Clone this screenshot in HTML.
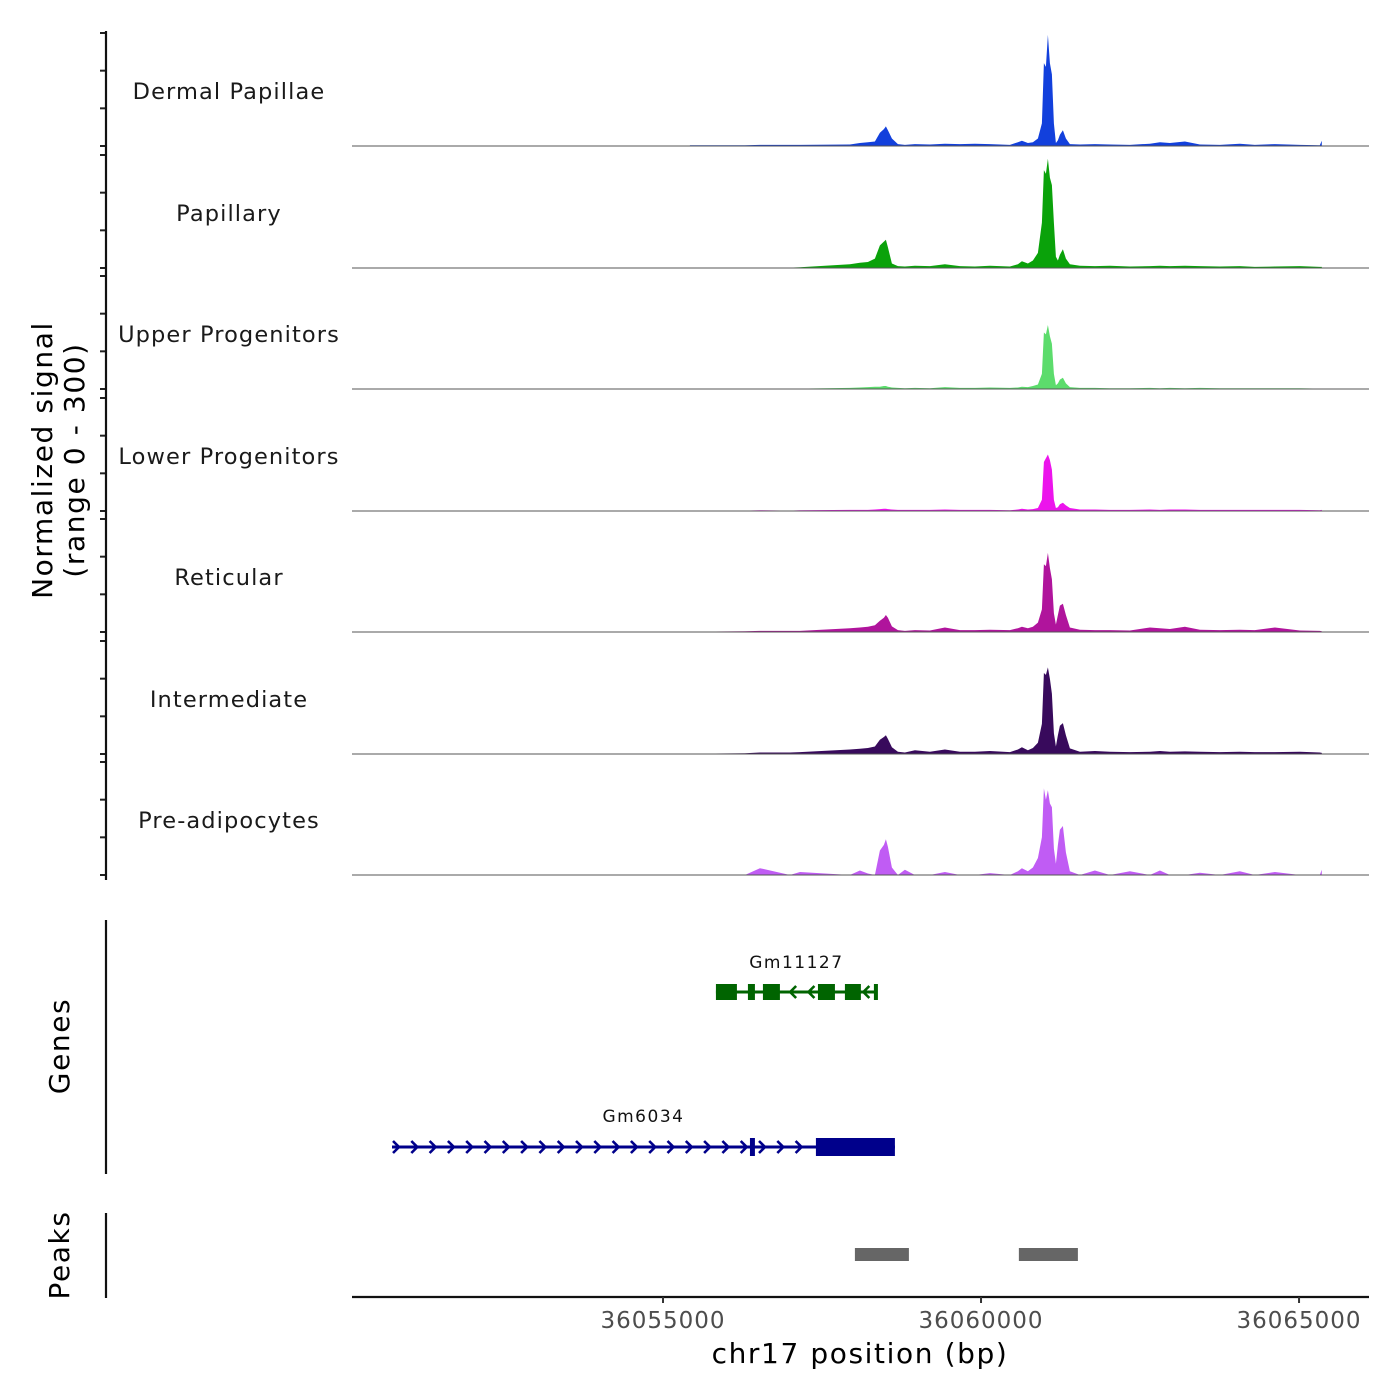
<!DOCTYPE html>
<html><head><meta charset="utf-8"><style>
html,body{margin:0;padding:0;background:#fff;}
svg{display:block;font-family:"DejaVu Sans","Liberation Sans",sans-serif;}
</style></head><body>
<svg id="chart" width="1400" height="1400" viewBox="0 0 1400 1400" xmlns="http://www.w3.org/2000/svg">
<g id="tracks"></g>
<g id="genes"></g>
<g id="peaks"></g>
<g id="axes"></g>
</svg>
<script>
const positions=[36055423,36055581,36056288,36056524,36056995,36057153,36057939,36058096,36058222,36058332,36058410,36058473,36058504,36058536,36058599,36058693,36058803,36058960,36059196,36059432,36059668,36059904,36060139,36060454,36060580,36060642,36060737,36060815,36060894,36060957,36060988,36061020,36061051,36061083,36061114,36061145,36061177,36061208,36061240,36061287,36061334,36061397,36061554,36061790,36062026,36062340,36062655,36062812,36062969,36063205,36063441,36063755,36064069,36064305,36064620,36065013,36065327,36065358];
const trackNames=["Dermal Papillae","Papillary","Upper Progenitors","Lower Progenitors","Reticular","Intermediate","Pre-adipocytes"];
const trackColors=["#1240dc","#0aa20a","#5cdc6c","#ec14ec","#b0149c","#380a5c","#c05cf4"];
const sigDermal=[2,2,2,3,3,3,4,8,10,12,35,45,52,42,20,5,3,5,4,6,5,6,5,3,10,14,8,10,20,60,220,210,295,220,190,60,8,15,30,42,20,5,4,5,4,3,6,10,8,12,4,3,6,3,5,3,2,14];
const sigPapillary=[0,0,1,1,1,2,10,14,16,25,60,70,75,55,12,5,4,6,5,10,5,4,6,4,10,18,12,20,40,120,260,250,290,240,220,120,30,20,35,50,25,10,6,5,6,4,5,6,5,6,5,4,5,3,4,5,3,3];
const sigUpper=[0,0,0,1,1,1,3,4,5,6,6,8,8,6,4,3,2,3,2,5,3,3,4,3,4,6,5,8,12,40,150,145,170,140,120,40,10,15,25,30,15,5,3,3,2,2,3,2,3,2,3,2,2,2,2,2,1,1];
const sigLower=[1,1,1,2,1,2,3,3,3,4,5,6,6,5,4,3,3,3,3,4,3,3,3,2,4,6,4,5,8,30,130,140,150,135,110,30,8,10,18,22,15,8,4,4,3,3,4,3,4,4,3,3,3,3,3,3,2,3];
const sigReticular=[1,1,2,3,3,3,10,12,14,18,30,38,45,38,15,5,3,5,4,12,5,5,6,5,10,14,10,14,25,60,180,175,210,170,140,50,20,45,70,75,45,12,6,5,5,4,12,10,8,14,6,5,6,5,12,4,3,2];
const sigIntermediate=[1,1,2,4,4,5,12,14,16,20,38,45,50,40,18,6,4,10,6,12,6,6,8,5,12,18,10,16,30,80,215,210,230,200,160,55,20,50,75,82,50,15,6,8,6,5,6,8,6,7,6,5,6,5,5,6,4,3];
const sigPreadipocytes=[0,0,0,18,0,8,0,12,4,0,65,80,95,75,20,0,14,0,0,8,0,0,5,0,10,18,10,20,45,100,230,200,225,190,180,70,30,80,120,130,60,10,0,12,0,10,0,12,0,0,6,0,10,0,8,0,0,14];
const signals=[sigDermal,sigPapillary,sigUpper,sigLower,sigReticular,sigIntermediate,sigPreadipocytes];
const yTicks=[0,100,200,300];
const xTicks=[36055000,36060000,36065000];
const xTickLabels=["36055000","36060000","36065000"];
const genesNames=["Gm11127","Gm6034"];
const gm11127Range=[36055832,36058363];
const gm11127Exons=[[36055832,36056162],[36056335,36056445],[36056571,36056838],[36057436,36057703],[36057860,36058111],[36058316,36058363]];
const gm6034Range=[36050739,36058646];
const gm6034Exons=[[36056367,36056445],[36057404,36058646]];
const peakRegions=[[36058017,36058866],[36060595,36061523]];

const NS="http://www.w3.org/2000/svg";
function el(tag,attrs,parent,text){const e=document.createElementNS(NS,tag);for(const k in attrs)e.setAttribute(k,attrs[k]);if(text!==undefined)e.textContent=text;parent.appendChild(e);return e;}
const X0=352,X1=1369,BP0=36050110,BP1=36066100;
function xs(bp){return X0+(bp-BP0)/(BP1-BP0)*(X1-X0);}
const baselines=[146,268,389,511,632,754,875];
const TH=113;
function ys(v,b){return b-v/300*TH;}

const tracks=document.getElementById('tracks');
signals.forEach((sig,t)=>{
  const b=baselines[t];
  let d="M"+xs(positions[0]).toFixed(1)+","+b;
  for(let i=0;i<positions.length;i++)d+=" L"+xs(positions[i]).toFixed(1)+","+ys(sig[i],b).toFixed(1);
  d+=" L"+xs(positions[positions.length-1]).toFixed(1)+","+b+" Z";
  const p=el('path',{d:d,fill:trackColors[t]},tracks);
  
  
  const ln=el('line',{x1:X0,x2:X1,y1:b,y2:b,stroke:'#555','stroke-width':1},tracks);
  
  
  const lb=el('text',{x:229,y:b-47,'text-anchor':'middle','font-size':22.5,fill:'#1a1a1a','letter-spacing':'1.1'},tracks,trackNames[t]);
  
  
  yTicks.forEach(v=>{
    const ty=ys(v,b);
    const tk=el('line',{x1:100,x2:106,y1:ty,y2:ty,stroke:'#222','stroke-width':2},tracks);
    
    
  });
});

const axes=document.getElementById('axes');
function line(x1,y1,x2,y2,name,w,c){const l=el('line',{x1,y1,x2,y2,stroke:c||'#111','stroke-width':w||2.2},axes);return l;}
line(106,31,106,880,'y-axis-line');
line(106,920,106,1174,'genes-axis-line');
line(106,1213,106,1298,'peaks-axis-line');
line(352,1297,1369,1297,'x-axis-line');
xTicks.forEach((v,i)=>{
  line(xs(v),1297,xs(v),1303,'x-tick',2,'#333');
  const t=el('text',{x:xs(v),y:1328,'text-anchor':'middle','font-size':23,fill:'#4d4d4d','letter-spacing':'1'},axes,xTickLabels[i]);
  
  
});
let t=el('text',{x:860,y:1363,'text-anchor':'middle','font-size':28,fill:'#000','letter-spacing':'1.6'},axes,'chr17 position (bp)');

t=el('text',{transform:'translate(52,460) rotate(-90)','text-anchor':'middle','font-size':28,fill:'#000','letter-spacing':'1.6'},axes,'Normalized signal');

t=el('text',{transform:'translate(84,460) rotate(-90)','text-anchor':'middle','font-size':28,fill:'#000','letter-spacing':'1.6'},axes,'(range 0 - 300)');

t=el('text',{transform:'translate(69,1046) rotate(-90)','text-anchor':'middle','font-size':28,fill:'#000','letter-spacing':'1.6'},axes,'Genes');

t=el('text',{transform:'translate(69,1255) rotate(-90)','text-anchor':'middle','font-size':28,fill:'#000','letter-spacing':'1.6'},axes,'Peaks');


const genes=document.getElementById('genes');
function drawGene(name,range,exons,y,color,dir,exH,labelY){
  const g=el('g',{},genes);
  
  
  el('line',{x1:xs(range[0]),x2:xs(range[1]),y1:y,y2:y,stroke:color,'stroke-width':3},g);
  for(let x=xs(range[0])+4;x<xs(range[1])-4;x+=18.3){
    let inside=exons.some(e=>x>xs(e[0])-5&&x<xs(e[1])+5);
    if(inside)continue;
    const a=dir>0?`M${x-3},${y-6} L${x+3},${y} L${x-3},${y+6}`:`M${x+3},${y-6} L${x-3},${y} L${x+3},${y+6}`;
    el('path',{d:a,fill:'none',stroke:color,'stroke-width':2.6},g);
  }
  exons.forEach(e=>{
    const w=Math.max(4,xs(e[1])-xs(e[0]));
    const r=el('rect',{x:xs(e[0]),y:y-exH/2,width:w,height:exH,fill:color},g);
    
    
  });
  const l=el('text',{x:(xs(range[0])+xs(range[1]))/2,y:labelY,'text-anchor':'middle','font-size':17,fill:'#111','letter-spacing':'1.5'},g,name);
  
  
}
drawGene(genesNames[0],gm11127Range,gm11127Exons,992,'#006400',-1,16,968);
drawGene(genesNames[1],gm6034Range,gm6034Exons,1147,'#00008b',1,18,1122);

const peaks=document.getElementById('peaks');
peakRegions.forEach(p=>{
  const r=el('rect',{x:xs(p[0]),y:1248,width:xs(p[1])-xs(p[0]),height:13,fill:'#666'},peaks);
  
  
});
</script>
</body></html>
